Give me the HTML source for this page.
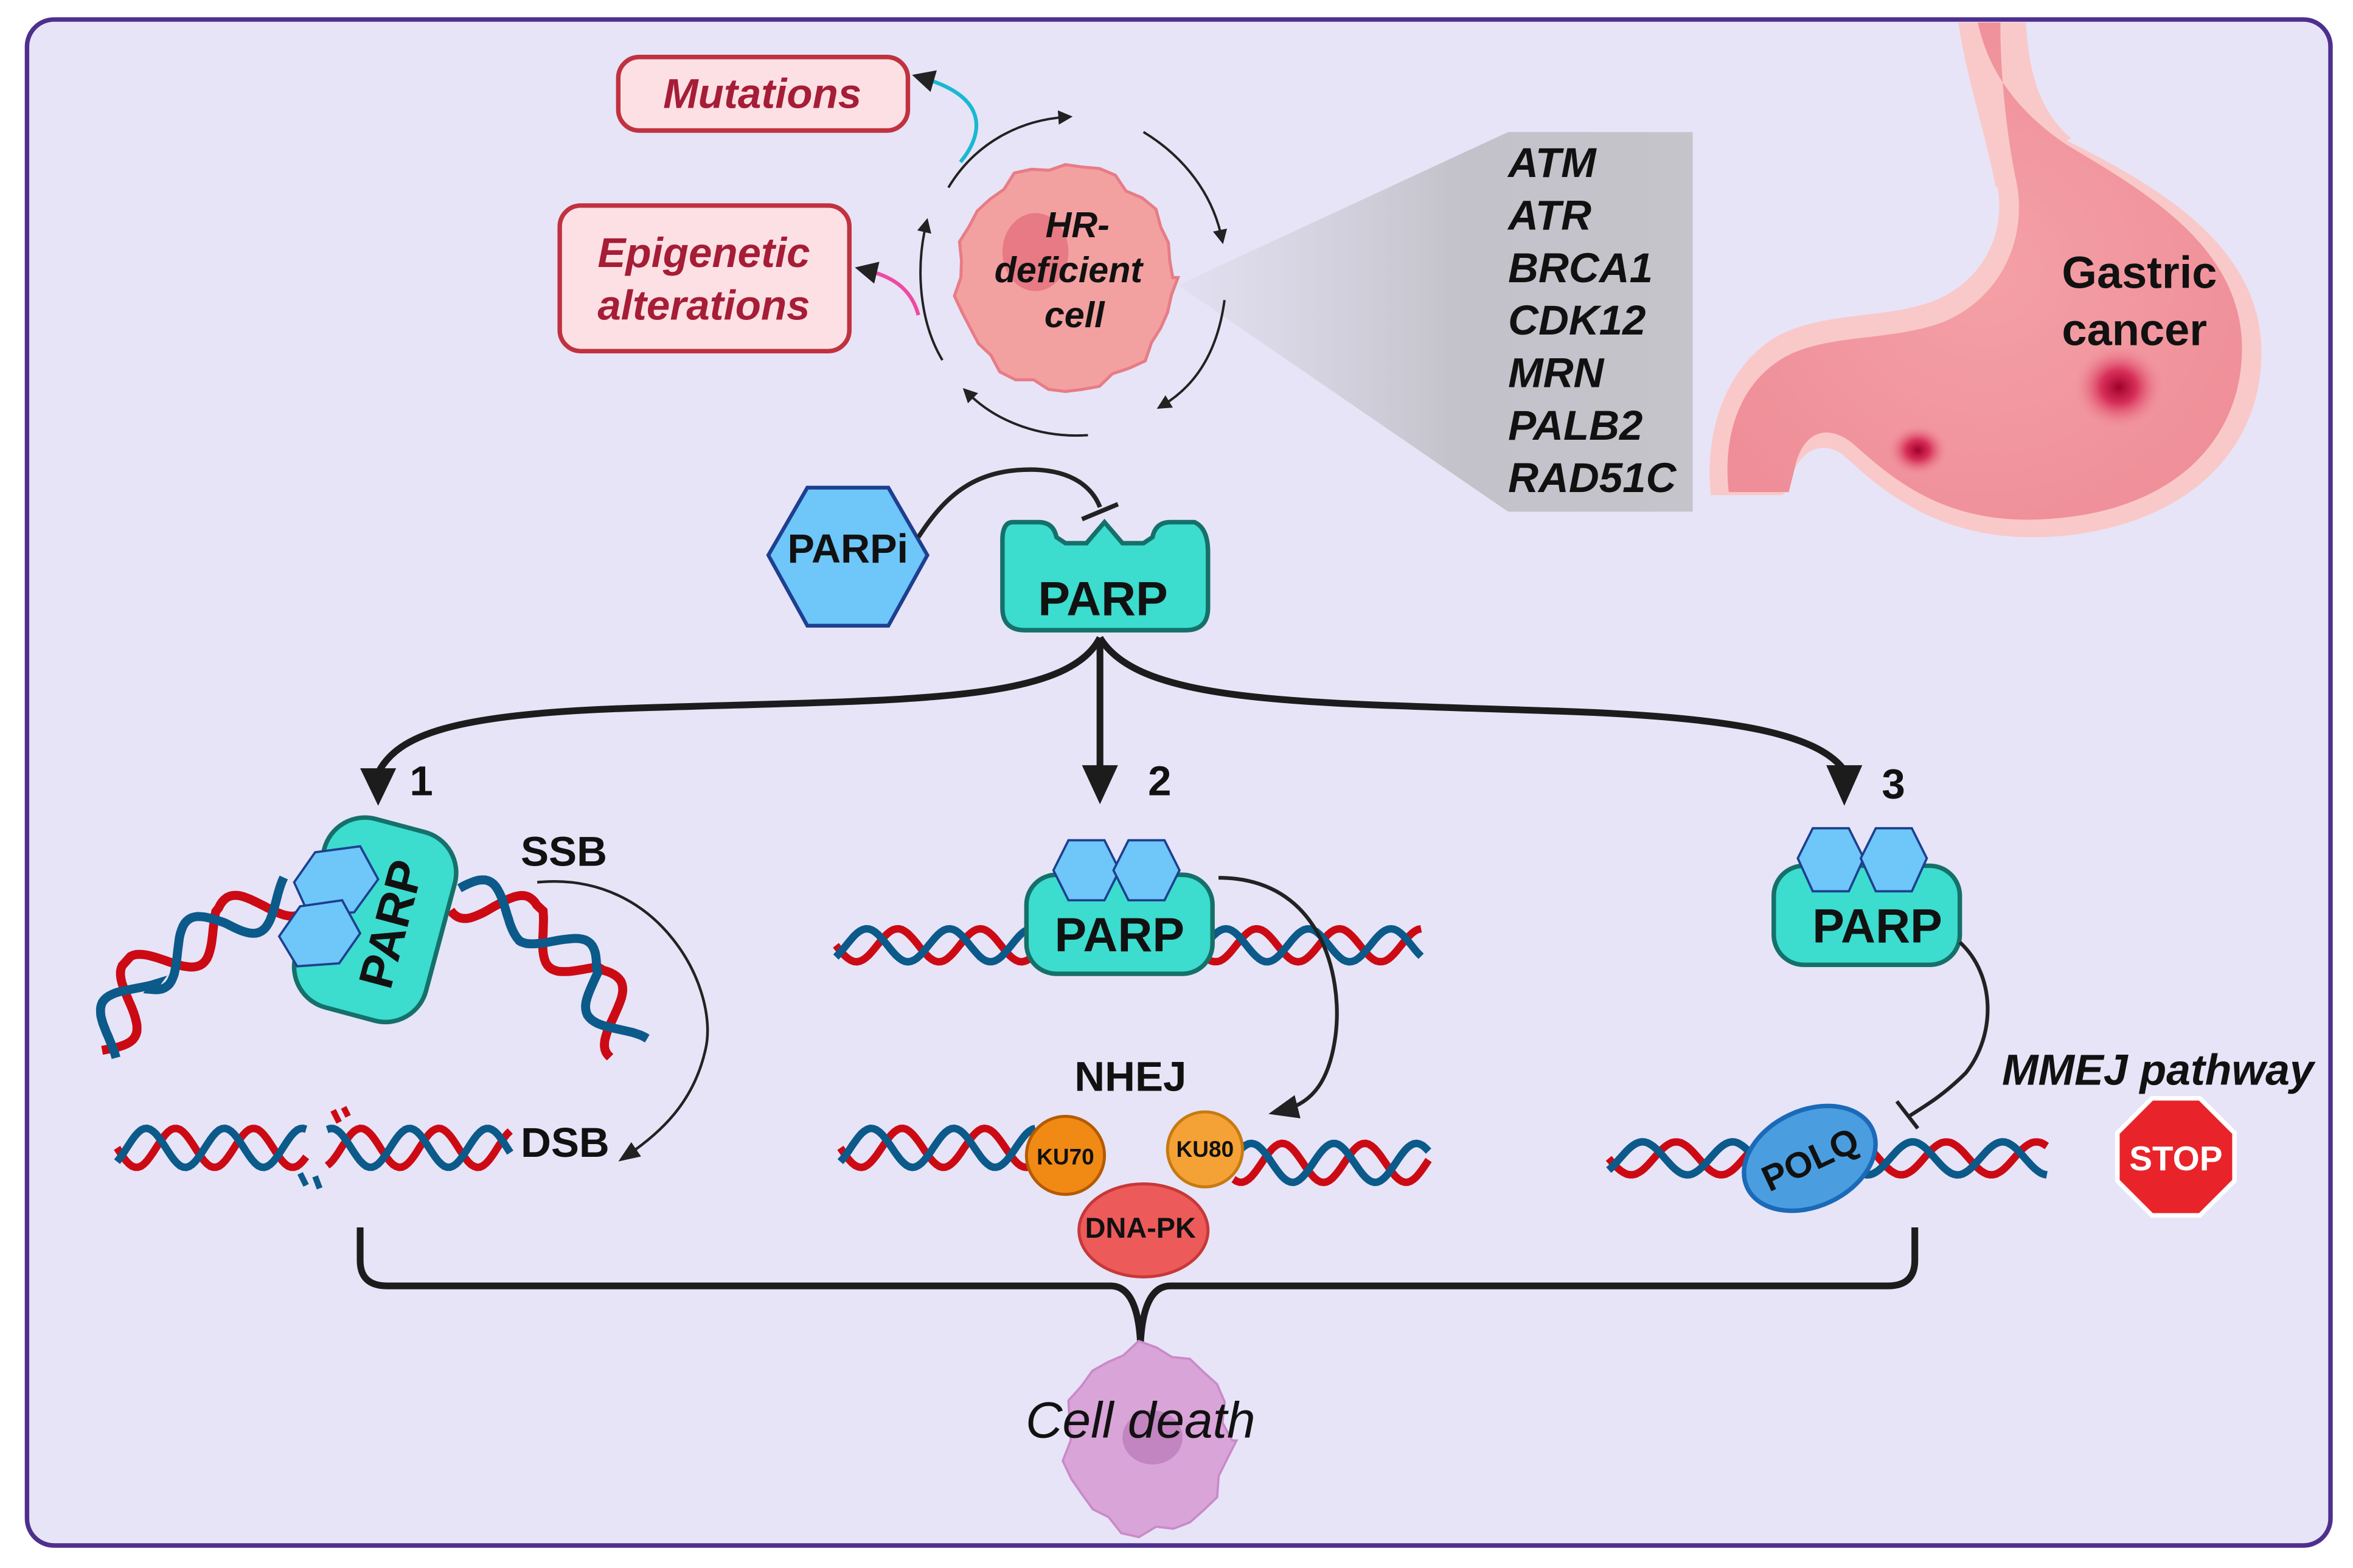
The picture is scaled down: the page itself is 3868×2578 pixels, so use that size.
<!DOCTYPE html>
<html><head><meta charset="utf-8">
<style>
html,body{margin:0;padding:0;background:#fff;}
svg{display:block;}
text{font-family:"Liberation Sans",sans-serif;}
</style></head>
<body>
<svg id="s" width="3868" height="2578" viewBox="0 0 1568 1045" preserveAspectRatio="none" xmlns="http://www.w3.org/2000/svg">
<defs>
<linearGradient id="tri" x1="0" x2="1" y1="0" y2="0">
<stop offset="0" stop-color="#cfcdd8" stop-opacity="0.2"/>
<stop offset="0.55" stop-color="#c3c1c9"/>
<stop offset="1" stop-color="#c6c4cb"/>
</linearGradient>
<radialGradient id="stom" cx="0.5" cy="0.5" r="0.6">
<stop offset="0" stop-color="#f4a0a6"/>
<stop offset="1" stop-color="#ef8e98"/>
</radialGradient>
<radialGradient id="les" cx="0.5" cy="0.5" r="0.5">
<stop offset="0" stop-color="#a0002a"/>
<stop offset="0.4" stop-color="#d8315a"/>
<stop offset="1" stop-color="#ef8e98" stop-opacity="0"/>
</radialGradient>
<marker id="ah" viewBox="0 0 10 10" refX="5" refY="5" markerWidth="6" markerHeight="6" orient="auto"><path d="M0,0L10,5L0,10z" fill="#222"/></marker>
<marker id="ahs" viewBox="0 0 10 10" refX="5" refY="5" markerWidth="8" markerHeight="8" orient="auto"><path d="M0,1L10,5L0,9z" fill="#222"/></marker>
</defs>
<rect x="0" y="0" width="1568" height="1045" fill="#fff"/>
<rect x="18" y="13" width="1535" height="1017" rx="18" fill="#e7e4f7" stroke="#4e2f8d" stroke-width="3"/>

<polygon points="785,190 1005,88 1128,88 1128,341 1005,341" fill="url(#tri)"/>
<g font-style="italic" font-weight="bold" font-size="28" fill="#111">
<text x="1005" y="118">ATM</text>
<text x="1005" y="153">ATR</text>
<text x="1005" y="188">BRCA1</text>
<text x="1005" y="223">CDK12</text>
<text x="1005" y="258">MRN</text>
<text x="1005" y="293">PALB2</text>
<text x="1005" y="328">RAD51C</text>
</g>

<!-- stomach -->
<path d="M1305,15 C1312,45 1335,70 1370,90 C1430,120 1507,160 1507,235 C1507,305 1450,355 1360,358 C1290,360 1252,325 1228,303 C1212,292 1198,302 1192,322 L1188,330 L1140,330 C1136,290 1148,250 1178,228 C1210,206 1255,214 1290,200 C1325,185 1338,150 1330,120 C1322,85 1318,50 1318,15 Z" fill="#f9c9c9"/>
<path d="M1305,15 L1350,15 C1352,50 1360,75 1380,92 L1330,125 C1322,85 1310,50 1305,15 Z" fill="#f9c9c9"/>
<path d="M1318,15 C1325,48 1345,75 1378,97 C1430,128 1494,165 1494,232 C1494,296 1445,342 1362,346 C1295,350 1260,318 1234,295 C1214,280 1200,292 1196,312 L1192,328 L1152,328 C1148,292 1158,258 1186,240 C1214,222 1258,228 1294,215 C1336,198 1352,155 1343,118 C1337,88 1333,50 1333,15 Z" fill="url(#stom)"/>
<ellipse cx="1412" cy="258" rx="30" ry="28" fill="url(#les)"/>
<ellipse cx="1278" cy="300" rx="20" ry="17" fill="url(#les)"/>
<g font-weight="bold" font-size="30" fill="#111"><text x="1374" y="192">Gastric</text><text x="1374" y="230">cancer</text></g>

<rect x="412" y="38" width="193" height="49" rx="14" fill="#fde0e4" stroke="#c0323f" stroke-width="3"/>
<text x="508" y="72" text-anchor="middle" font-style="italic" font-weight="bold" font-size="28" fill="#a51d36">Mutations</text>
<rect x="373" y="137" width="193" height="97" rx="14" fill="#fde0e4" stroke="#c0323f" stroke-width="3"/>
<text x="469" y="178" text-anchor="middle" font-style="italic" font-weight="bold" font-size="28" fill="#a51d36">Epigenetic</text>
<text x="469" y="213" text-anchor="middle" font-style="italic" font-weight="bold" font-size="28" fill="#a51d36">alterations</text>
<path d="M640,108 C655,90 660,65 615,52" fill="none" stroke="#19b8d2" stroke-width="2.5" marker-end="url(#ah)"/>
<path d="M612,210 C608,195 598,185 577,180" fill="none" stroke="#ee4aa0" stroke-width="2.5" marker-end="url(#ah)"/>

<path id="cellp" fill="#f3a0a0" stroke="#e77c86" stroke-width="2"/>
<ellipse cx="690" cy="168" rx="22" ry="26" fill="#e36e7b" opacity="0.75"/>
<g font-style="italic" font-weight="bold" font-size="24" fill="#111" text-anchor="middle">
<text x="718" y="158">HR-</text><text x="712" y="188">deficient</text><text x="716" y="218">cell</text></g>
<g fill="none" stroke="#222" stroke-width="1.6">
<path d="M632,125 C650,95 680,80 710,78" marker-end="url(#ah)"/>
<path d="M762,88 C790,105 808,130 814,158" marker-end="url(#ah)"/>
<path d="M816,200 C812,230 800,255 775,270" marker-end="url(#ah)"/>
<path d="M725,290 C695,292 665,282 645,262" marker-end="url(#ah)"/>
<path d="M628,240 C613,215 610,180 617,150" marker-end="url(#ah)"/>
</g>

<polygon points="538,325 592,325 618,370 592,417 538,417 512,370" fill="#6ec6f9" stroke="#1e3f8f" stroke-width="2.5"/>
<text x="565" y="375" text-anchor="middle" font-weight="bold" font-size="27" fill="#111">PARPi</text>
<path d="M612,358 C630,330 650,312 690,313 C715,314 728,325 733,338" fill="none" stroke="#222" stroke-width="3"/>
<line x1="721" y1="346" x2="745" y2="336" stroke="#222" stroke-width="3"/>
<path d="M675,348 L692,348 Q702,348 704,358 L710,362 L724,362 L736,348 L748,362 L762,362 L768,358 Q770,348 780,348 L796,348 Q805,352 805,368 L805,405 Q805,420 790,420 L683,420 Q668,420 668,405 L668,360 Q668,348 675,348 Z" fill="#3cdccf" stroke="#16706a" stroke-width="3"/>
<text x="735" y="410" text-anchor="middle" font-weight="bold" font-size="32" fill="#111">PARP</text>

<g fill="none" stroke="#1c1c1c" stroke-width="4.5">
<path d="M733,425 C710,470 600,466 420,472 C300,476 265,490 252,515"/>
<path d="M733,425 L733,512"/>
<path d="M733,425 C760,470 870,468 1040,474 C1160,478 1210,490 1228,512"/>
</g>
<polygon points="240,512 264,512 252,537" fill="#1c1c1c"/>
<polygon points="721,510 745,510 733,536" fill="#1c1c1c"/>
<polygon points="1217,510 1241,510 1229,537" fill="#1c1c1c"/>
<g font-weight="bold" font-size="28" fill="#111">
<text x="273" y="530">1</text><text x="765" y="530">2</text><text x="1254" y="532">3</text>
<text x="347" y="577">SSB</text><text x="347" y="771">DSB</text><text x="716" y="727">NHEJ</text>
</g>
<g id="dna"></g>

<g transform="translate(250,613) rotate(15)">
<rect x="-45" y="-65" width="90" height="130" rx="28" fill="#3cdccf" stroke="#16706a" stroke-width="3"/>
<text x="10" y="12" transform="rotate(-90 10 0)" text-anchor="middle" font-weight="bold" font-size="32" fill="#111">PARP</text>
</g>
<polygon points="210,568 240,564 252,586 236,608 206,610 196,588" fill="#6ec6f9" stroke="#1e3f8f" stroke-width="1.5"/>
<polygon points="200,604 228,600 240,622 226,642 198,644 186,624" fill="#6ec6f9" stroke="#1e3f8f" stroke-width="1.5"/>
<path d="M358,588 C440,580 480,660 470,700 C462,735 440,755 418,770" fill="none" stroke="#222" stroke-width="1.8" marker-end="url(#ahs)"/>

<rect x="684" y="583" width="124" height="66" rx="20" fill="#3cdccf" stroke="#16706a" stroke-width="3"/>
<polygon points="712,560 736,560 746,580 736,600 712,600 702,580" fill="#6ec6f9" stroke="#1e3f8f" stroke-width="1.5"/>
<polygon points="752,560 776,560 786,580 776,600 752,600 742,580" fill="#6ec6f9" stroke="#1e3f8f" stroke-width="1.5"/>
<text x="746" y="634" text-anchor="middle" font-weight="bold" font-size="32" fill="#111">PARP</text>
<path d="M812,585 C880,585 895,650 890,690 C886,720 875,735 855,740" fill="none" stroke="#222" stroke-width="2.5" marker-end="url(#ahs)"/>
<ellipse cx="762" cy="820" rx="43" ry="31" fill="#ec5a5a" stroke="#c83838" stroke-width="2"/>
<circle cx="710" cy="770" r="26" fill="#f08a14" stroke="#b55a00" stroke-width="2"/>
<circle cx="803" cy="766" r="25" fill="#f4a236" stroke="#c77a10" stroke-width="2"/>
<text x="710" y="776" text-anchor="middle" font-weight="bold" font-size="15" fill="#111">KU70</text>
<text x="803" y="771" text-anchor="middle" font-weight="bold" font-size="15" fill="#111">KU80</text>
<text x="760" y="825" text-anchor="middle" font-weight="bold" font-size="19" fill="#111">DNA-PK</text>

<rect x="1182" y="577" width="124" height="66" rx="20" fill="#3cdccf" stroke="#16706a" stroke-width="3"/>
<polygon points="1208,552 1232,552 1242,572 1232,594 1208,594 1198,572" fill="#6ec6f9" stroke="#1e3f8f" stroke-width="1.5"/>
<polygon points="1250,552 1274,552 1284,572 1274,594 1250,594 1240,572" fill="#6ec6f9" stroke="#1e3f8f" stroke-width="1.5"/>
<text x="1251" y="628" text-anchor="middle" font-weight="bold" font-size="32" fill="#111">PARP</text>
<path d="M1306,628 C1330,650 1330,690 1310,715 C1295,730 1283,737 1272,744" fill="none" stroke="#222" stroke-width="2.5"/>
<line x1="1264" y1="734" x2="1278" y2="752" stroke="#222" stroke-width="2.5"/>
<g transform="translate(1206,772) rotate(-25)">
<ellipse cx="0" cy="0" rx="46" ry="32" fill="#4a9ee0" stroke="#1a6ab8" stroke-width="3"/>
<text x="0" y="9" text-anchor="middle" font-weight="bold" font-size="24" fill="#111">POLQ</text></g>
<text x="1438" y="723" text-anchor="middle" font-style="italic" font-weight="bold" font-size="29" fill="#111">MMEJ pathway</text>
<polygon points="1434,732 1466,732 1489,755 1489,787 1466,810 1434,810 1411,787 1411,755" fill="#e8242a" stroke="#fff" stroke-width="3"/>
<text x="1450" y="780" text-anchor="middle" font-weight="bold" font-size="23" fill="#fff">STOP</text>

<path d="M240,818 L240,840 Q240,857 258,857 L740,857 Q758,857 760,895 Q762,857 780,857 L1258,857 Q1276,857 1276,840 L1276,818" fill="none" stroke="#1c1c1c" stroke-width="4.5"/>

<path id="dead" fill="#d9a4d8" stroke="#c98ac8" stroke-width="1.5"/>
<ellipse cx="768" cy="958" rx="20" ry="18" fill="#b878b8" opacity="0.7"/>
<text x="760" y="958" text-anchor="middle" font-style="italic" font-size="34" fill="#111">Cell death</text>
</svg>
<script>
function blob(cx,cy,rx,ry,n,amp,seed){let d="";for(let i=0;i<=n;i++){let a=i/n*2*Math.PI;let k=1+amp*Math.sin(i*2.7+seed)*Math.cos(i*1.3);let x=cx+rx*k*Math.cos(a),y=cy+ry*k*Math.sin(a);d+=(i?"L":"M")+x.toFixed(1)+","+y.toFixed(1);}return d+"Z";}
document.getElementById("cellp").setAttribute("d",blob(710,185,72,75,40,0.05,1));
document.getElementById("dead").setAttribute("d",blob(765,960,55,62,30,0.08,2));
const NS="http://www.w3.org/2000/svg";const g=document.getElementById("dna");
function helix(pts,amp,period,phase,w){
 let paths=[[],[]];let L=0;
 for(let i=1;i<pts.length;i++){let [x1,y1]=pts[i-1],[x2,y2]=pts[i];let dx=x2-x1,dy=y2-y1,len=Math.hypot(dx,dy);let nx=-dy/len,ny=dx/len;
  for(let t=0;t<=len;t+=2){let x=x1+dx*t/len,y=y1+dy*t/len;let p=(L+t)/period*2*Math.PI+phase;
   paths[0].push([x+nx*amp*Math.sin(p),y+ny*amp*Math.sin(p)]);paths[1].push([x+nx*amp*Math.sin(p+Math.PI*0.75),y+ny*amp*Math.sin(p+Math.PI*0.75)]);}
  L+=len;}
 ["#cc0a14","#0b5a8a"].forEach((c,k)=>{let p=document.createElementNS(NS,"path");p.setAttribute("d","M"+paths[k].map(q=>q[0].toFixed(1)+","+q[1].toFixed(1)).join("L"));p.setAttribute("fill","none");p.setAttribute("stroke",c);p.setAttribute("stroke-width",w||5);g.appendChild(p);});
}
helix([[68,700],[95,650],[150,615],[195,595]],15,75,0,6);
helix([[305,595],[355,615],[395,650],[420,700]],15,75,1,6);
helix([[78,765],[205,765]],13,52,0);
helix([[218,765],[340,765]],13,52,2);
helix([[557,630],[690,630]],11,55,0);
helix([[805,630],[948,630]],11,55,1);
helix([[560,765],[690,765]],13,55,0);
helix([[822,775],[952,775]],13,55,1);
helix([[1072,772],[1365,772]],11,60,0);
[[222,740,226,748],[229,738,232,744],[200,782,204,790],[210,784,213,792]].forEach(a=>{let l=document.createElementNS(NS,"line");l.setAttribute("x1",a[0]);l.setAttribute("y1",a[1]);l.setAttribute("x2",a[2]);l.setAttribute("y2",a[3]);l.setAttribute("stroke",a[1]<760?"#cc0a14":"#0b5a8a");l.setAttribute("stroke-width","4");g.appendChild(l);});
</script>
</body></html>
